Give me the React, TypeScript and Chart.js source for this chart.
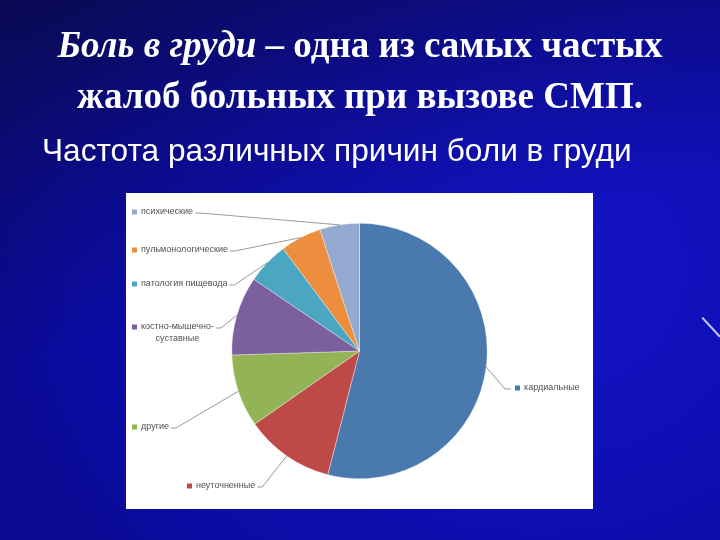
import React, { useEffect, useRef } from "react";
import { Chart, registerables } from "chart.js";

Chart.register(...registerables);

const categories = [
  "кардиальные",
  "неуточненные",
  "другие",
  "костно-мышечно-суставные",
  "патология пищевода",
  "пульмонологические",
  "психические",
];
const labelLines = [
  ["кардиальные"],
  ["неуточненные"],
  ["другие"],
  ["костно-мышечно-", "суставные"],
  ["патология пищевода"],
  ["пульмонологические"],
  ["психические"],
];
const values = [54, 11.3, 9.2, 10, 5.3, 5.2, 5];
const colors = ["#4a79ad", "#bd4a46", "#93b456", "#7b5f9e", "#4aa6c1", "#ec8e3e", "#93a9cf"];

// label anchors inside the chart box (px): square left x, text centre y, side
const labelAnchors = [
  { x: 389, y: 195, side: "right" },
  { x: 61, y: 293, side: "left" },
  { x: 6, y: 234, side: "left" },
  { x: 6, y: 134, side: "left" },
  { x: 6, y: 91, side: "left" },
  { x: 6, y: 57, side: "left" },
  { x: 6, y: 19, side: "left" },
];

const outLabels = {
  id: "outLabels",
  afterDatasetsDraw(chart: any) {
    const ctx = chart.ctx as CanvasRenderingContext2D;
    const meta = chart.getDatasetMeta(0);
    ctx.save();
    ctx.font = "9px 'Liberation Sans', Arial, sans-serif";
    ctx.textBaseline = "middle";
    meta.data.forEach((arc: any, i: number) => {
      const p = arc.getProps(["x", "y", "startAngle", "endAngle", "outerRadius"], true);
      const mid = (p.startAngle + p.endAngle) / 2;
      const px = p.x + Math.cos(mid) * p.outerRadius;
      const py = p.y + Math.sin(mid) * p.outerRadius;
      const a = labelAnchors[i];
      const lines = labelLines[i];
      ctx.fillStyle = colors[i];
      ctx.fillRect(a.x, a.y - 2.5, 5, 5);
      ctx.fillStyle = "#505050";
      ctx.textAlign = "left";
      const tx = a.x + 9;
      ctx.fillText(lines[0], tx, a.y);
      const w0 = ctx.measureText(lines[0]).width;
      if (lines.length > 1) {
        ctx.textAlign = "center";
        ctx.fillText(lines[1], tx + w0 / 2, a.y + 12);
      }
      ctx.strokeStyle = "#7f7f7f";
      ctx.lineWidth = 0.8;
      ctx.beginPath();
      if (a.side === "left") {
        const sx = tx + w0 + 2;
        ctx.moveTo(sx, a.y + 1);
        ctx.lineTo(sx + 5, a.y + 1);
        ctx.lineTo(px, py);
      } else {
        const sx = a.x - 4;
        ctx.moveTo(sx, a.y + 1);
        ctx.lineTo(sx - 6, a.y + 1);
        ctx.lineTo(px, py);
      }
      ctx.stroke();
    });
    ctx.restore();
  },
};

export default function App() {
  const ref = useRef<HTMLCanvasElement | null>(null);
  useEffect(() => {
    if (!ref.current) return;
    const chart = new Chart(ref.current, {
      type: "pie",
      data: {
        labels: categories,
        datasets: [
          {
            data: values,
            backgroundColor: colors,
            borderColor: "rgba(255,255,255,0.6)",
            borderWidth: 0.6,
          },
        ],
      },
      options: {
        animation: false,
        responsive: true,
        maintainAspectRatio: false,
        layout: { padding: { top: 30, bottom: 30, left: 0, right: 0 } },
        plugins: { legend: { display: false }, tooltip: { enabled: false } },
      },
      plugins: [outLabels],
    });
    return () => chart.destroy();
  }, []);

  const titleStyle: React.CSSProperties = {
    position: "absolute",
    left: 0,
    width: 720,
    textAlign: "center",
    color: "#ffffff",
    fontFamily: "'Liberation Serif', 'Times New Roman', serif",
    fontWeight: "bold",
    fontSize: 37,
    lineHeight: "51px",
    whiteSpace: "nowrap",
  };

  return (
    <div
      style={{
        position: "fixed",
        left: 0,
        top: 0,
        width: 720,
        height: 540,
        overflow: "hidden",
        background:
          "radial-gradient(ellipse 80% 90% at 75% 50%, #1414c8 0%, #0e0eb2 50%, #0b0ba2 80%, #0a0a90 100%)",
      }}
    >
      <div
        style={{
          position: "absolute",
          inset: 0,
          background:
            "linear-gradient(165deg, rgba(10,10,60,0.7) 0%, rgba(10,10,60,0.3) 25%, rgba(10,10,60,0) 50%)",
        }}
      />
      <div style={{ ...titleStyle, top: 19 }}>
        <i>Боль в груди</i> – одна из самых частых
      </div>
      <div style={{ ...titleStyle, top: 70 }}>жалоб больных при вызове СМП.</div>
      <div
        style={{
          position: "absolute",
          left: 42,
          top: 132,
          color: "#ffffff",
          fontFamily: "'Liberation Sans', Arial, sans-serif",
          fontSize: 31.6,
          lineHeight: "36px",
          whiteSpace: "nowrap",
        }}
      >
        Частота различных причин боли в груди
      </div>
      <div
        style={{
          position: "absolute",
          left: 126,
          top: 193,
          width: 467,
          height: 316,
          background: "#ffffff",
        }}
      >
        <canvas ref={ref} />
      </div>
      <div
        style={{
          position: "absolute",
          left: 703,
          top: 317,
          width: 26,
          height: 1.5,
          background: "#c8c8ff",
          transform: "rotate(47deg)",
          transformOrigin: "0 0",
        }}
      />
    </div>
  );
}
